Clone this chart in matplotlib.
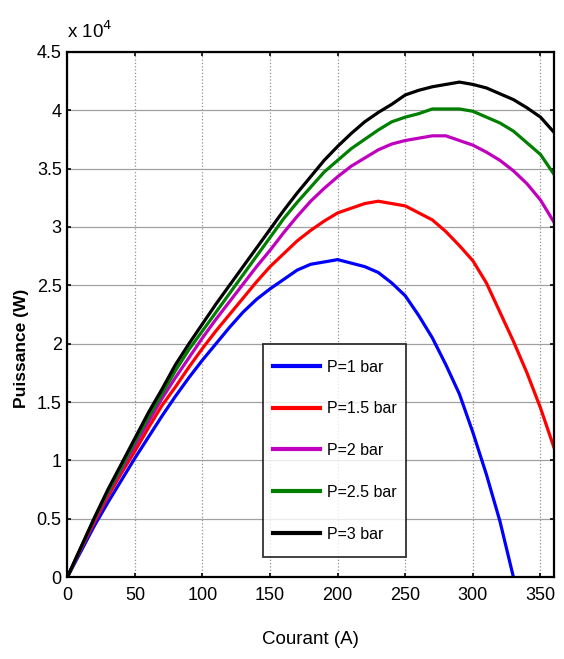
import matplotlib
matplotlib.use("Agg")
import matplotlib.pyplot as plt
from matplotlib.path import Path
from matplotlib.ticker import FuncFormatter, MultipleLocator

base_family = ['Liberation Sans', 'DejaVu Sans']
plt.rcParams['font.family'] = base_family
fs = 13

# Current (A)
courant = list(range(0, 370, 10))
# Power values in units of 1e4 W
p1 = [0, 0.22, 0.44, 0.64, 0.83, 1.02, 1.20, 1.38, 1.55, 1.71, 1.86, 2.00, 2.14, 2.27, 2.38,
      2.47, 2.55, 2.63, 2.68, 2.70, 2.72, 2.69, 2.66, 2.61, 2.52, 2.41, 2.24, 2.05, 1.82,
      1.57, 1.24, 0.88, 0.48, 0.0]
p15 = [0, 0.24, 0.47, 0.69, 0.89, 1.08, 1.28, 1.47, 1.63, 1.80, 1.96, 2.11, 2.25, 2.39, 2.53,
       2.66, 2.77, 2.88, 2.97, 3.05, 3.12, 3.16, 3.20, 3.22, 3.20, 3.18, 3.12, 3.06, 2.96,
       2.84, 2.71, 2.52, 2.27, 2.02, 1.75, 1.45, 1.11]
p2 = [0, 0.25, 0.49, 0.72, 0.92, 1.13, 1.33, 1.53, 1.71, 1.88, 2.05, 2.21, 2.36, 2.51, 2.66,
      2.80, 2.95, 3.09, 3.22, 3.33, 3.43, 3.52, 3.59, 3.66, 3.71, 3.74, 3.76, 3.78, 3.78,
      3.74, 3.70, 3.64, 3.57, 3.48, 3.37, 3.23, 3.04]
p25 = [0, 0.25, 0.50, 0.73, 0.94, 1.16, 1.37, 1.57, 1.77, 1.95, 2.11, 2.27, 2.43, 2.59, 2.75,
       2.91, 3.07, 3.21, 3.34, 3.47, 3.57, 3.67, 3.75, 3.83, 3.90, 3.94, 3.97, 4.01, 4.01,
       4.01, 3.99, 3.94, 3.89, 3.82, 3.72, 3.62, 3.45]
p3 = [0, 0.255, 0.51, 0.75, 0.97, 1.19, 1.41, 1.61, 1.82, 2.00, 2.17, 2.34, 2.50, 2.66, 2.82,
      2.98, 3.14, 3.29, 3.43, 3.57, 3.69, 3.80, 3.90, 3.98, 4.05, 4.13, 4.17, 4.20, 4.22,
      4.24, 4.22, 4.19, 4.14, 4.09, 4.02, 3.94, 3.81]

series = [(p1, 'P=1 bar', '#0000ff'), (p15, 'P=1.5 bar', '#ff0000'),
          (p2, 'P=2 bar', '#bf00bf'), (p25, 'P=2.5 bar', '#007f00'),
          (p3, 'P=3 bar', '#000000')]

fig = plt.figure(figsize=(5.64, 6.59), dpi=100)
ax = fig.add_axes([0.1193, 0.124, 0.8630, 0.7975])

for vals, lab, col in series:
    ax.plot(courant[:len(vals)], [v * 1e4 for v in vals], color=col, lw=2.3, label=lab)

ax.set_xlim(0, 360)
ax.set_ylim(0, 45000)
ax.xaxis.set_major_locator(MultipleLocator(50))
ax.yaxis.set_major_locator(MultipleLocator(5000))
ax.yaxis.set_major_formatter(FuncFormatter(lambda v, p: '%g' % (v / 1e4)))

ax.xaxis.grid(True, color='#909090', linestyle=':', lw=0.9)
ax.yaxis.grid(True, color='#a0a0a0', linestyle='-', lw=0.9)
ax.set_axisbelow(True)

ax.tick_params(direction='in', length=3, width=1.2, top=True, right=True,
               labelsize=fs, colors='black')
ax.tick_params(axis='x', pad=7)
ax.tick_params(axis='y', pad=4)
for s in ax.spines.values():
    s.set_linewidth(1.6)
    s.set_color('black')

ax.set_xlabel('Courant (A)', fontsize=fs + 0.5)
ax.xaxis.set_label_coords(0.5, -0.119)
ax.xaxis.label.set_va('center')
ax.set_ylabel('Puissance (W)', fontsize=12.5, fontweight='bold')
ax.yaxis.set_label_coords(-0.094, 0.435)
ax.yaxis.label.set_va('center')

fig.text(67 / 564, 1 - 38 / 659, r'x 10$^{4}$', fontsize=fs + 0.5, ha='left', va='baseline')

leg = ax.legend(loc='upper left', bbox_to_anchor=(0.402, 0.4325), fontsize=11.5,
                frameon=True, fancybox=False, edgecolor='black', handlelength=3.0,
                handletextpad=0.38, labelspacing=1.675, borderpad=0.6, borderaxespad=0)
leg.get_frame().set_linewidth(1.3)


def tall_box(x0, y0, width, height, mutation_size):
    dy = 6.0
    return Path([(x0, y0 - dy), (x0 + width, y0 - dy), (x0 + width, y0 + height + dy),
                 (x0, y0 + height + dy), (x0, y0 - dy)],
                [Path.MOVETO, Path.LINETO, Path.LINETO, Path.LINETO, Path.CLOSEPOLY])


leg.get_frame().set_boxstyle(tall_box)
for line in leg.get_lines():
    line.set_linewidth(3)

fig.savefig('out.png', dpi=100)
